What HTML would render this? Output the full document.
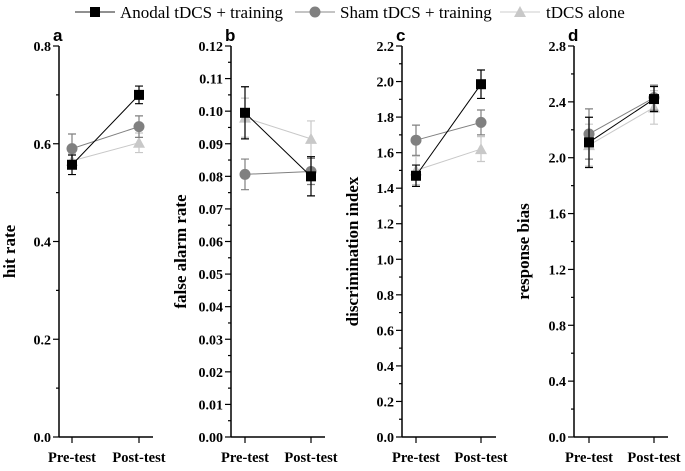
<!DOCTYPE html>
<html><head><meta charset="utf-8"><style>
body{margin:0;background:#fff}
svg text{font-family:"Liberation Serif",serif}
svg text.sans{font-family:"Liberation Sans",sans-serif}
</style></head><body>
<svg id="chart" width="685" height="466" xmlns="http://www.w3.org/2000/svg">
<g font-size="17">
 <g><line x1="75" y1="12" x2="115" y2="12" stroke="#222"/><rect x="90" y="7" width="10" height="10" fill="#000"/><text x="120" y="18">Anodal tDCS + training</text></g>
 <g><line x1="295" y1="12" x2="335" y2="12" stroke="#888"/><circle cx="315" cy="12" r="5.5" fill="#808080"/><text x="340" y="18">Sham tDCS + training</text></g>
 <g><line x1="500" y1="12" x2="540" y2="12" stroke="#ccc"/><path d="M520 6 L526 17 L514 17Z" fill="#c8c8c8"/><text x="546" y="18">tDCS alone</text></g>
</g>
</svg>
<script>
const groups=['Pre-test','Post-test'];
const anodalA=[0.557,0.700], anodalAErr=[0.020,0.018];
const shamA=[0.590,0.635], shamAErr=[0.030,0.022];
const aloneA=[0.565,0.602], aloneAErr=[0.015,0.020];
const anodalB=[0.0995,0.0800], anodalBErr=[0.008,0.006];
const shamB=[0.0806,0.0815], shamBErr=[0.0047,0.004];
const aloneB=[0.0980,0.0915], aloneBErr=[0.006,0.0055];
const anodalC=[1.47,1.985], anodalCErr=[0.06,0.08];
const shamC=[1.67,1.77], shamCErr=[0.085,0.07];
const aloneC=[1.50,1.62], aloneCErr=[0.08,0.07];
const anodalD=[2.11,2.42], anodalDErr=[0.18,0.09];
const shamD=[2.17,2.43], shamDErr=[0.18,0.09];
const aloneD=[2.09,2.36], aloneDErr=[0.15,0.12];
const ticksA=['0.0','0.2','0.4','0.6','0.8'];
const ticksB=['0.00','0.01','0.02','0.03','0.04','0.05','0.06','0.07','0.08','0.09','0.10','0.11','0.12'];
const ticksC=['0.0','0.2','0.4','0.6','0.8','1.0','1.2','1.4','1.6','1.8','2.0','2.2'];
const ticksD=['0.0','0.4','0.8','1.2','1.6','2.0','2.4','2.8'];
const NS='http://www.w3.org/2000/svg';
const svg=document.getElementById('chart');
function mk(tag,attrs,parent){const e=document.createElementNS(NS,tag);for(const k in attrs)e.setAttribute(k,attrs[k]);(parent||svg).appendChild(e);return e;}
const Y0=437,Y1=46;
const panels=[
 {id:'a',ax:59,xs:[72,139],max:0.8,ticks:ticksA,title:'hit rate',tx:15,series:[[aloneA,aloneAErr],[shamA,shamAErr],[anodalA,anodalAErr]]},
 {id:'b',ax:231,xs:[245,311],max:0.12,ticks:ticksB,title:'false alarm rate',tx:186,series:[[aloneB,aloneBErr],[shamB,shamBErr],[anodalB,anodalBErr]]},
 {id:'c',ax:402,xs:[416,481],max:2.2,ticks:ticksC,title:'discrimination index',tx:358,series:[[aloneC,aloneCErr],[shamC,shamCErr],[anodalC,anodalCErr]]},
 {id:'d',ax:574,xs:[589,654],max:2.8,ticks:ticksD,title:'response bias',tx:529,series:[[aloneD,aloneDErr],[shamD,shamDErr],[anodalD,anodalDErr]]}
];
const styles=[{c:'#c8c8c8',shape:'tri',name:'alone'},{c:'#808080',shape:'circ',name:'sham'},{c:'#000',shape:'sq',name:'anodal'}];
panels.forEach(p=>{
 const g=mk('g',{});
 
 
 const y=v=>Y0-(v/p.max)*(Y0-Y1);
 const axL=mk('line',{x1:p.ax,y1:Y1,x2:p.ax,y2:Y0,stroke:'#000','stroke-width':1.5},g);
 
 
 const axX=mk('line',{x1:p.ax,y1:Y0,x2:p.ax+94,y2:Y0,stroke:'#000','stroke-width':1.5},g);
 
 
 const n=p.ticks.length;
 p.ticks.forEach((t,i)=>{
  const v=parseFloat(t), yy=y(v);
  mk('line',{x1:p.ax-6,y1:yy,x2:p.ax,y2:yy,stroke:'#000','stroke-width':1.2},g);
  if(i<n-1){const step=parseFloat(p.ticks[1])-parseFloat(p.ticks[0]);const ym=y(v+step/2);mk('line',{x1:p.ax-3,y1:ym,x2:p.ax,y2:ym,stroke:'#000','stroke-width':1.2},g);}
  const tl=mk('text',{x:p.ax-8,y:yy+5,'text-anchor':'end','font-size':14,'font-weight':'bold'},g);tl.textContent=t;
  
  
 });
 p.xs.forEach((x,i)=>{
  mk('line',{x1:x,y1:Y0,x2:x,y2:Y0+6,stroke:'#000','stroke-width':1.2},g);
  const xl=mk('text',{x:x,y:462,'text-anchor':'middle','font-size':14.5,'font-weight':'bold'},g);xl.textContent=groups[i];
  
  
 });
 const lt=mk('text',{x:p.ax-6,y:41,'font-size':17,'font-weight':'bold','class':'sans'},g);lt.textContent=p.id;
 
 
 const yt=mk('text',{x:p.tx,y:(Y0+Y1)/2+10,'text-anchor':'middle','font-size':17,'font-weight':'bold',transform:`rotate(-90 ${p.tx} ${(Y0+Y1)/2+10})`},g);yt.textContent=p.title;
 
 
 p.series.forEach((s,si)=>{
  const st=styles[si];const vals=s[0],errs=s[1];
  const sg=mk('g',{},g);
  
  
  mk('line',{x1:p.xs[0],y1:y(vals[0]),x2:p.xs[1],y2:y(vals[1]),stroke:st.c,'stroke-width':1},sg);
  vals.forEach((v,i)=>{
   const x=p.xs[i],yt2=y(v+errs[i]),yb=y(v-errs[i]);
   mk('path',{d:`M${x} ${yt2}V${yb}M${x-4} ${yt2}H${x+4}M${x-4} ${yb}H${x+4}`,stroke:st.c,'stroke-width':1.2,fill:'none'},sg);
   let m;
   if(st.shape==='sq')m=mk('rect',{x:x-5,y:y(v)-5,width:10,height:10,fill:st.c},sg);
   else if(st.shape==='circ')m=mk('circle',{cx:x,cy:y(v),r:5.5,fill:st.c},sg);
   else m=mk('path',{d:`M${x} ${y(v)-6}L${x+6} ${y(v)+5}L${x-6} ${y(v)+5}Z`,fill:st.c},sg);
   
   
  });
 });
});
</script>
</body></html>
